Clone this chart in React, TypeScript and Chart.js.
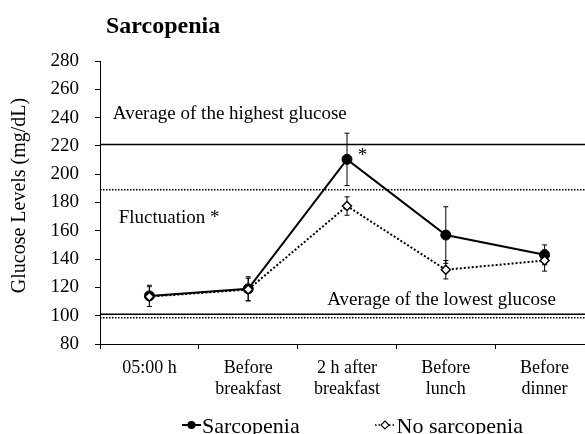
import React, { useEffect, useRef } from 'react';
import { Chart, registerables } from 'chart.js';

Chart.register(...registerables);

// ---- data ----
const categories: (string | string[])[] = [
  '05:00 h',
  ['Before', 'breakfast'],
  ['2 h after', 'breakfast'],
  ['Before', 'lunch'],
  ['Before', 'dinner'],
];
const sarcopenia = [114, 119, 210.5, 157, 143];
const sarcopeniaErr = [7.5, 8.5, 18.5, 20, 7];
const noSarcopenia = [113.5, 118.5, 177.5, 132.5, 139];
const noSarcopeniaErr = [7, 8, 6.5, 6.5, 7.5];

const yMin = 80;
const yMax = 280;
const yStep = 20;

// average of highest / lowest glucose per group
const highestSarcopenia = 221;
const highestNoSarcopenia = 189;
const lowestSarcopenia = 101;
const lowestNoSarcopenia = 98.5;

// annotation texts: x = category index (fractional), y = value
const noteTexts = ['Average of the highest glucose', 'Fluctuation *', 'Average of the lowest glucose', '*'];
const noteX = [-0.37, -0.31, 1.8, 2.11];
const noteY = [242.5, 169, 111, 213];

const titleText = 'Sarcopenia';
const yTitle = 'Glucose Levels (mg/dL)';
const legendLabels = ['Sarcopenia', 'No sarcopenia'];

const FONT = '"Liberation Serif", "Times New Roman", serif';

const refLinesPlugin = {
  id: 'refLines',
  beforeDatasetsDraw(chart: any) {
    const { ctx, chartArea } = chart;
    const y = chart.scales.y;
    const lines = [
      { v: highestSarcopenia, dash: [] as number[] },
      { v: highestNoSarcopenia, dash: [1.5, 1.5] },
      { v: lowestSarcopenia, dash: [] as number[] },
      { v: lowestNoSarcopenia, dash: [1.5, 1.5] },
    ];
    ctx.save();
    ctx.strokeStyle = '#000';
    ctx.lineWidth = 1.5;
    lines.forEach((l) => {
      const py = y.getPixelForValue(l.v);
      ctx.setLineDash(l.dash);
      ctx.beginPath();
      ctx.moveTo(chartArea.left, py);
      ctx.lineTo(chartArea.right, py);
      ctx.stroke();
    });
    ctx.restore();
  },
};

const errorBarsPlugin = {
  id: 'errorBars',
  beforeDatasetsDraw(chart: any) {
    const { ctx } = chart;
    const xs = chart.scales.x;
    const ys = chart.scales.y;
    const sets = [
      { vals: sarcopenia, errs: sarcopeniaErr },
      { vals: noSarcopenia, errs: noSarcopeniaErr },
    ];
    ctx.save();
    ctx.strokeStyle = '#000';
    ctx.lineWidth = 1;
    ctx.setLineDash([]);
    sets.forEach((s) => {
      s.vals.forEach((v, i) => {
        const px = xs.getPixelForValue(i);
        const top = ys.getPixelForValue(v + s.errs[i]);
        const bot = ys.getPixelForValue(v - s.errs[i]);
        ctx.beginPath();
        ctx.moveTo(px, top);
        ctx.lineTo(px, bot);
        ctx.moveTo(px - 2.5, top);
        ctx.lineTo(px + 2.5, top);
        ctx.moveTo(px - 2.5, bot);
        ctx.lineTo(px + 2.5, bot);
        ctx.stroke();
      });
    });
    ctx.restore();
  },
};

const notesPlugin = {
  id: 'notes',
  afterDatasetsDraw(chart: any) {
    const { ctx } = chart;
    const xs = chart.scales.x;
    const ys = chart.scales.y;
    ctx.save();
    ctx.fillStyle = '#000';
    ctx.font = `19px ${FONT}`;
    ctx.textAlign = 'left';
    ctx.textBaseline = 'middle';
    noteTexts.forEach((t, i) => {
      ctx.fillText(t, xs.getPixelForValue(noteX[i]), ys.getPixelForValue(noteY[i]));
    });
    ctx.restore();
  },
};

const titleLegendPlugin = {
  id: 'titleLegend',
  afterDraw(chart: any) {
    const { ctx, chartArea } = chart;
    ctx.save();
    ctx.fillStyle = '#000';
    ctx.font = `bold 24px ${FONT}`;
    ctx.textAlign = 'left';
    ctx.textBaseline = 'middle';
    ctx.fillText(titleText, chartArea.left + 6, 27);

    // y axis title
    ctx.save();
    ctx.translate(20, (chartArea.top + chartArea.bottom) / 2 - 7);
    ctx.rotate(-Math.PI / 2);
    ctx.font = `20px ${FONT}`;
    ctx.textAlign = 'center';
    ctx.textBaseline = 'middle';
    ctx.fillText(yTitle, 0, 0);
    ctx.restore();

    // legend
    const base = 433;
    const mid = 425;
    ctx.font = `22px ${FONT}`;
    ctx.textAlign = 'left';
    ctx.textBaseline = 'alphabetic';
    ctx.strokeStyle = '#000';
    // item 1
    const x1 = chartArea.left + 82;
    ctx.lineWidth = 2;
    ctx.setLineDash([]);
    ctx.beginPath();
    ctx.moveTo(x1, mid);
    ctx.lineTo(x1 + 19, mid);
    ctx.stroke();
    ctx.beginPath();
    ctx.arc(x1 + 9.5, mid, 4, 0, Math.PI * 2);
    ctx.fillStyle = '#000';
    ctx.fill();
    ctx.fillText(legendLabels[0], x1 + 20, base);
    // item 2
    const x2 = chartArea.left + 275;
    ctx.lineWidth = 1.5;
    ctx.setLineDash([1.5, 2]);
    ctx.beginPath();
    ctx.moveTo(x2, mid);
    ctx.lineTo(x2 + 19, mid);
    ctx.stroke();
    ctx.setLineDash([]);
    ctx.beginPath();
    ctx.moveTo(x2 + 10 - 4, mid);
    ctx.lineTo(x2 + 10, mid - 4);
    ctx.lineTo(x2 + 10 + 4, mid);
    ctx.lineTo(x2 + 10, mid + 4);
    ctx.closePath();
    ctx.fillStyle = '#fff';
    ctx.fill();
    ctx.lineWidth = 1.2;
    ctx.stroke();
    ctx.fillStyle = '#000';
    ctx.fillText(legendLabels[1], x2 + 21.5, base);
    ctx.restore();
  },
};

export default function App() {
  const ref = useRef<HTMLCanvasElement>(null);
  useEffect(() => {
    if (!ref.current) return;
    Chart.defaults.font.family = FONT;
    const chart = new Chart(ref.current, {
      type: 'line',
      data: {
        labels: categories,
        datasets: [
          {
            label: legendLabels[0],
            data: sarcopenia,
            borderColor: '#000',
            backgroundColor: '#000',
            borderWidth: 2,
            tension: 0,
            pointStyle: 'circle',
            pointRadius: 5,
            pointBackgroundColor: '#000',
            pointBorderColor: '#000',
            pointBorderWidth: 1,
            order: 2,
          },
          {
            label: legendLabels[1],
            data: noSarcopenia,
            borderColor: '#000',
            backgroundColor: '#fff',
            borderWidth: 2,
            borderDash: [2, 2],
            tension: 0,
            pointStyle: 'rectRot',
            pointRadius: 4.5,
            pointBackgroundColor: '#fff',
            pointBorderColor: '#000',
            pointBorderWidth: 1.5,
            order: 1,
          },
        ],
      },
      options: {
        responsive: false,
        animation: false,
        devicePixelRatio: 1,
        layout: { padding: { top: 61, right: 5, left: 0, bottom: 0 } },
        plugins: {
          legend: { display: false },
          title: { display: false },
          tooltip: { enabled: false },
        },
        scales: {
          x: {
            type: 'category',
            offset: true,
            grid: { drawOnChartArea: false, drawTicks: true, tickLength: 5, color: '#000', offset: true },
            border: { color: '#000', width: 1 },
            ticks: {
              color: '#000',
              font: { size: 18, lineHeight: 1.1667, family: FONT },
              padding: 9,
              maxRotation: 0,
              autoSkip: false,
            },
            afterFit(scale: any) {
              scale.height = 90;
            },
          },
          y: {
            min: yMin,
            max: yMax,
            grid: { drawOnChartArea: false, drawTicks: true, tickLength: 5, color: '#000' },
            border: { color: '#000', width: 1 },
            ticks: {
              stepSize: yStep,
              color: '#000',
              font: { size: 19, family: FONT },
              padding: 16,
            },
            title: { display: false },
            afterFit(scale: any) {
              scale.width = 100;
            },
          },
        },
      },
      plugins: [refLinesPlugin, errorBarsPlugin, notesPlugin, titleLegendPlugin],
    });
    return () => chart.destroy();
  }, []);

  return (
    <div
      style={{
        position: 'fixed',
        left: 0,
        top: 0,
        width: 585,
        height: 434,
        overflow: 'hidden',
        background: '#fff',
      }}
    >
      <canvas ref={ref} width={600} height={434} style={{ display: 'block' }} />
    </div>
  );
}
